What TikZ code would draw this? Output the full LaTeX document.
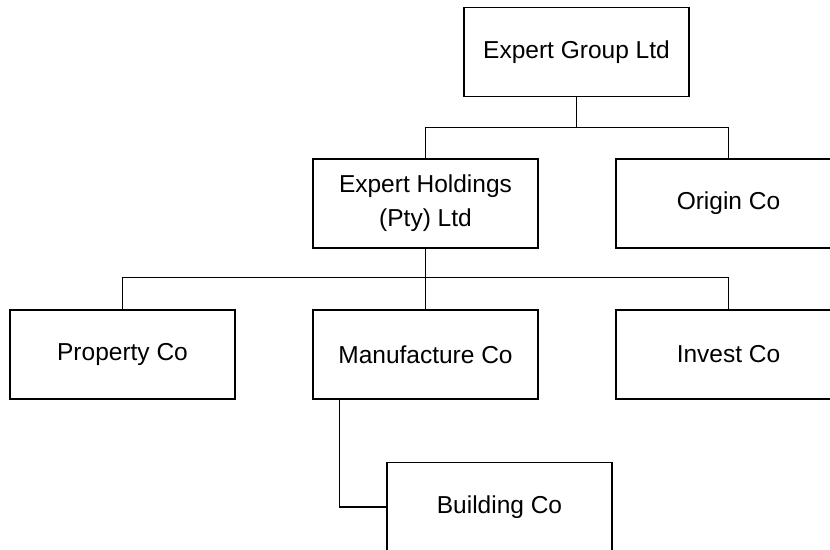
\documentclass[tikz,border=0pt]{standalone}
\usepackage{fontspec}
\setmainfont{Liberation Sans}
\begin{document}
\begin{tikzpicture}[x=1pt, y=-1pt, line width=1.3pt,
  company/.style={draw, minimum width=225pt, minimum height=89pt, inner sep=0pt,
    align=center, font=\fontsize{24.5}{34}\selectfont}]
\useasboundingbox (0,0) rectangle (830,549);
\clip (0,0) rectangle (830,549);

\node [company] (group) at (576.5,52) {Expert Group Ltd};

\node [company] (holdings) at (425.5,203.5) {Expert Holdings\\(Pty) Ltd};
\node [company] (origin) at (728.5,203.5) {Origin Co};

\node [company] (property) at (122.5,354.5) {Property Co};
\node [company] (manufacture) at (425.5,354.5) {Manufacture Co};
\node [company] (invest) at (728.5,354.5) {Invest Co};

\node [company] (building) at (499.5,507) {Building Co};

% group to its two subsidiaries
\draw (group.south) -- ++(0,31);
\draw (holdings.north) |- ++(0,-31) -| (origin.north);

% holdings to the three companies below it
\draw (holdings.south) -- (manufacture.north);
\draw (property.north) |- ++(0,-32) -| (invest.north);

\draw ([xshift=27pt]manufacture.south west) |- (building.west);
\end{tikzpicture}
\end{document}
